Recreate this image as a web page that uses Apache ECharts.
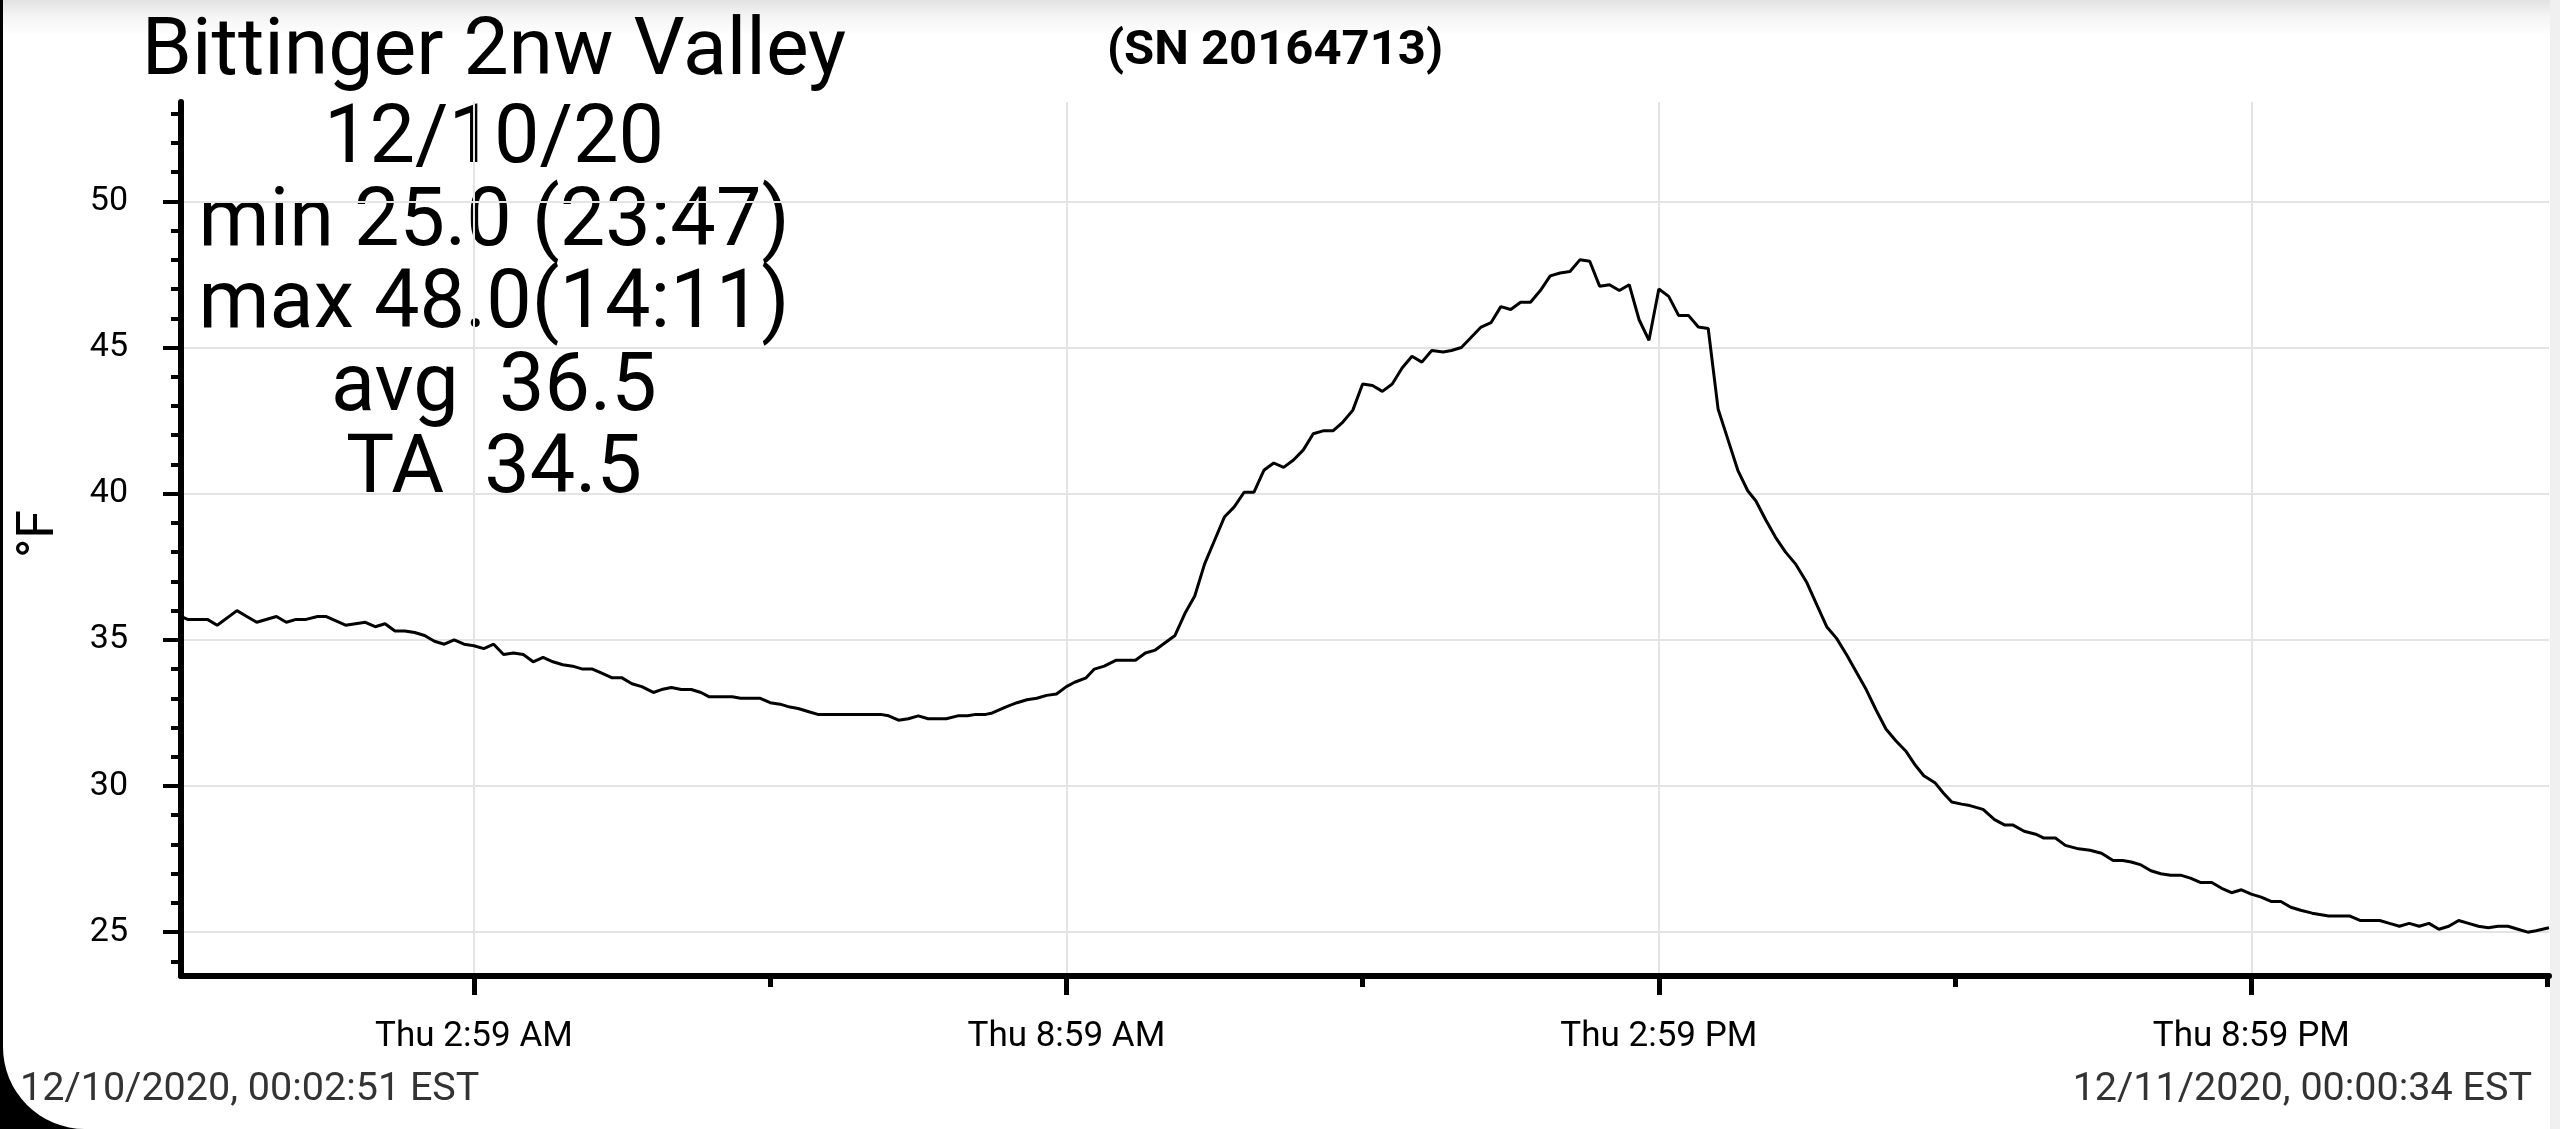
<!DOCTYPE html>
<html>
<head>
<meta charset="utf-8">
<script src="https://cdn.jsdelivr.net/npm/echarts@6.0.0/dist/echarts.min.js"></script>
<style>
html,body{margin:0;padding:0;width:2560px;height:1129px;overflow:hidden;background:#000;}
#bg{position:absolute;left:3px;top:0;width:2557px;height:1129px;border-bottom-left-radius:82px;
  background:linear-gradient(to right, rgba(255,255,255,0) 2547px, #f0f0f0 2547px),
             linear-gradient(to bottom, #e2e2e2 0px, #f4f4f4 16px, #ffffff 36px);}
#main{position:absolute;left:0;top:0;width:2560px;height:1129px;}
</style>
</head>
<body>
<div id="bg"></div>
<div id="main"></div>
<script>
// ---- data (minutes after midnight 12/10/2020, °F) ----
const minutes = [
  1.0,5,17,23,35,41,47,59,65,71,
  77,84,89,101,107,113,119,125,131,137,
  143,149,155,161,167,173,179,185,191,197,
  203,209,215,221,227,233,239,245,251,257,
  263,269,275,281,288,293,299,305,311,317,
  322,329,336,341,347,353,359,365,371,376,
  382,388,395,401,407,413,419,426,431,437,
  443,449,455,461,466,473,479,484,490,494,
  502,509,515,521,527,533,539,544,551,556,
  562,569,575,581,587,593,599,605,611,617,
  623,629,635,641,647,653,659,665,671,677,
  683,689,695,701,707,713,719,725,731,737,
  743,749,755,761,768,773,779,785,791,797,
  803,809,815,821,827,833,839,845,851,857,
  863,869,875,881,887,893,899,905,911,917,
  923,929,935,941,947,953,958,964,970,976,
  982,989,995,1001,1007,1013,1019,1025,1031,1037,
  1043,1049,1055,1060,1067,1072,1077,1083,1088,1096,
  1103,1109,1114,1121,1128,1133,1140,1146,1154,1161,
  1168,1175,1181,1186,1192,1198,1204,1210,1216,1222,
  1228,1235,1241,1247,1253,1259,1265,1271,1277,1283,
  1289,1296,1306,1312,1319,1325,1331,1337,1343,1349,
  1355,1361,1367,1373,1379,1385,1391,1397,1403,1409,
  1415,1421,1427,1432,1439.9
];
const temps = [
  35.8,35.7,35.7,35.5,36.0,35.8,35.6,35.8,35.6,35.7,
  35.7,35.8,35.8,35.5,35.55,35.6,35.45,35.55,35.3,35.3,
  35.25,35.15,34.95,34.85,35.0,34.85,34.8,34.7,34.85,34.5,
  34.55,34.5,34.25,34.4,34.25,34.15,34.1,34.0,34.0,33.85,
  33.7,33.7,33.5,33.4,33.2,33.3,33.37,33.3,33.3,33.2,
  33.05,33.05,33.05,33.0,33.0,33.0,32.85,32.8,32.7,32.65,
  32.55,32.45,32.45,32.45,32.45,32.45,32.45,32.45,32.4,32.25,
  32.3,32.4,32.3,32.3,32.3,32.4,32.4,32.45,32.45,32.5,
  32.7,32.85,32.95,33.0,33.1,33.15,33.4,33.55,33.7,34.0,
  34.1,34.3,34.3,34.3,34.55,34.65,34.9,35.15,35.9,36.5,
  37.6,38.4,39.2,39.55,40.05,40.05,40.8,41.05,40.9,41.15,
  41.5,42.05,42.15,42.15,42.45,42.85,43.75,43.7,43.5,43.75,
  44.3,44.7,44.5,44.9,44.85,44.9,45.0,45.35,45.7,45.85,
  46.4,46.3,46.55,46.55,46.95,47.45,47.55,47.6,48.0,47.95,
  47.1,47.15,46.95,47.15,45.95,45.25,47.0,46.75,46.1,46.1,
  45.7,45.65,42.9,41.85,40.8,40.1,39.75,39.1,38.5,38.0,
  37.6,36.95,36.2,35.45,35.05,34.5,33.9,33.3,32.6,31.95,
  31.55,31.2,30.7,30.35,30.1,29.75,29.45,29.38,29.33,29.2,
  28.85,28.67,28.67,28.45,28.35,28.22,28.22,27.97,27.85,27.8,
  27.7,27.45,27.45,27.4,27.3,27.1,27.0,26.95,26.95,26.85,
  26.7,26.7,26.5,26.35,26.45,26.3,26.2,26.05,26.05,25.85,
  25.75,25.65,25.55,25.55,25.55,25.4,25.4,25.4,25.3,25.2,
  25.3,25.2,25.3,25.1,25.2,25.4,25.3,25.2,25.15,25.2,
  25.2,25.1,25.0,25.05,25.15
];
const xStart = 1.0;
const xEnd = 1439.9;
const xMajorTicks = [179, 539, 899, 1259];
const xTickLabels = ['Thu 2:59 AM', 'Thu 8:59 AM', 'Thu 2:59 PM', 'Thu 8:59 PM'];
const xMinorTicks = [359, 719, 1079, 1439];
const yMin = 23.5, yMax = 53.4;
const yMajorTicks = [25, 30, 35, 40, 45, 50];
const yMinorTicks = [24, 26, 27, 28, 29, 31, 32, 33, 34, 36, 37, 38, 39, 41, 42, 43, 44, 46, 47, 48, 49, 51, 52, 53];
const titleText = 'Bittinger 2nw Valley';
const serialText = '(SN 20164713)';
const statsLines = ['12/10/20', 'min 25.0 (23:47)', 'max 48.0(14:11)', 'avg  36.5', 'TA  34.5'];
const yUnit = '°F';
const startStamp = '12/10/2020, 00:02:51 EST';
const endStamp = '12/11/2020, 00:00:34 EST';

const FONT = 'Roboto';
const seriesData = minutes.map((m, i) => [m, temps[i]]);
const chart = echarts.init(document.getElementById('main'), null, {renderer: 'canvas'});

const option = {
  animation: false,
  backgroundColor: 'transparent',
  textStyle: {fontFamily: FONT},
  grid: {left: 181, right: 11, top: 102, bottom: 153, containLabel: false, outerBoundsMode: 'none'},
  xAxis: [
    {
      type: 'value', min: xStart, max: xEnd, position: 'bottom',
      axisLine: {show: true, onZero: false, lineStyle: {color: '#000', width: 6}},
      axisTick: {show: true, customValues: xMajorTicks, length: 19, lineStyle: {color: '#000', width: 5}},
      axisLabel: {
        show: true, customValues: xMajorTicks, color: '#000', fontSize: 35, fontFamily: FONT, margin: 44,
        formatter: function (v) {
          for (let i = 0; i < xMajorTicks.length; i++) {
            if (Math.abs(xMajorTicks[i] - v) < 0.5) return xTickLabels[i];
          }
          return '';
        }
      },
      splitLine: {show: true, lineStyle: {color: '#e4e4e4', width: 2}}
    },
    {
      type: 'value', min: xStart, max: xEnd, position: 'bottom', gridIndex: 0,
      axisLine: {show: false, onZero: false},
      axisTick: {show: true, customValues: xMinorTicks, length: 11, lineStyle: {color: '#000', width: 5}},
      axisLabel: {show: false},
      splitLine: {show: false}
    }
  ],
  yAxis: [
    {
      type: 'value', min: yMin, max: yMax, position: 'left',
      axisLine: {show: true, onZero: false, lineStyle: {color: '#000', width: 6}},
      axisTick: {show: true, customValues: yMajorTicks, length: 18, lineStyle: {color: '#000', width: 4}},
      axisLabel: {show: true, customValues: yMajorTicks, color: '#000', fontSize: 34, fontFamily: FONT, margin: 53},
      splitLine: {show: true, lineStyle: {color: '#e4e4e4', width: 2}}
    },
    {
      type: 'value', min: yMin, max: yMax, position: 'left', gridIndex: 0,
      axisLine: {show: false, onZero: false},
      axisTick: {show: true, customValues: yMinorTicks, length: 10, lineStyle: {color: '#000', width: 4}},
      axisLabel: {show: false},
      splitLine: {show: false}
    }
  ],
  series: [{
    type: 'line', xAxisIndex: 0, yAxisIndex: 0, data: seriesData,
    showSymbol: false, symbol: 'none', silent: true,
    lineStyle: {color: '#000', width: 3}
  }],
  graphic: {
    elements: [
      {type: 'text', x: 494, y: 54, silent: true,
        style: {text: titleText, fontSize: 80.5, fontFamily: FONT, fill: '#000', align: 'center', verticalAlign: 'middle'}},
      {type: 'text', x: 494, y: 100.5, silent: true,
        style: {text: statsLines.join('\n'), fontSize: 81, fontFamily: FONT, fill: '#000', align: 'center', verticalAlign: 'top', lineHeight: 82.5}},
      {type: 'text', x: 1275, y: 52, silent: true,
        style: {text: serialText, fontSize: 49, fontWeight: 'bold', fontFamily: FONT, fill: '#000', align: 'center', verticalAlign: 'middle'}},
      {type: 'text', x: 40, y: 534, rotation: Math.PI / 2, silent: true,
        style: {text: yUnit, fontSize: 52, fontFamily: FONT, fill: '#000', align: 'center', verticalAlign: 'middle'}},
      {type: 'text', x: 20, y: 1090, silent: true,
        style: {text: startStamp, fontSize: 39.5, fontFamily: FONT, fill: '#333', align: 'left', verticalAlign: 'middle'}},
      {type: 'text', x: 2532, y: 1090, silent: true,
        style: {text: endStamp, fontSize: 39.5, fontFamily: FONT, fill: '#333', align: 'right', verticalAlign: 'middle'}}
    ]
  }
};
chart.setOption(option);
</script>
</body>
</html>
